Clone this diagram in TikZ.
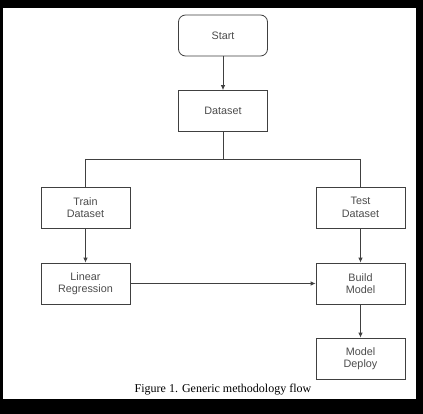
\documentclass[tikz,border=0pt]{standalone}
\usepackage{fontspec}
\setmainfont{Liberation Serif}
\newfontfamily\boxfont{Liberation Sans}
\usetikzlibrary{arrows.meta}
\begin{document}
\begin{tikzpicture}[x=1pt,y=-1pt,
  flowbox/.style={draw=black!75, line width=0.8pt, minimum width=89pt, minimum height=41pt,
    inner sep=0pt, align=center, font=\boxfont\fontsize{10.8}{12.5}\selectfont, text=black!70},
  link/.style={draw=black!75, line width=0.8pt},
  arr/.style={link, -{Latex[length=5pt,width=4.5pt]}}]
\fill[black] (0,0) rectangle (423,414);
\fill[white] (3,8) rectangle (416,399);
\useasboundingbox (0,0) rectangle (423,414);
\node[flowbox, rounded corners=7pt] (start) at (223,35.5) {Start};
\node[flowbox] (data) at (223,111) {Dataset};
\node[flowbox] (train) at (85.5,207.5) {Train\\Dataset};
\node[flowbox] (test) at (360.5,207.5) {Test\\Dataset};
\node[flowbox] (lin) at (85.5,283.5) {Linear\\Regression};
\node[flowbox] (build) at (360.5,283.5) {Build\\Model};
\node[flowbox] (deploy) at (360.5,358.5) {Model\\Deploy};
\coordinate (j) at (223,159);
\coordinate (jl) at (85.5,159);
\coordinate (jr) at (360.5,159);
\draw[arr] (start) -- (data);
\draw[link] (data) -- (j);
\draw[link] (jl) -- (jr);
\draw[link] (jl) -- (train);
\draw[link] (jr) -- (test);
\draw[arr] (train) -- (lin);
\draw[arr] (test) -- (build);
\draw[arr] (lin) -- (build);
\draw[arr] (build) -- (deploy);
\node[font=\fontsize{12}{14}\selectfont] (cap) at (223,389.5) {Figure 1. Generic methodology flow};
\end{tikzpicture}
\end{document}
